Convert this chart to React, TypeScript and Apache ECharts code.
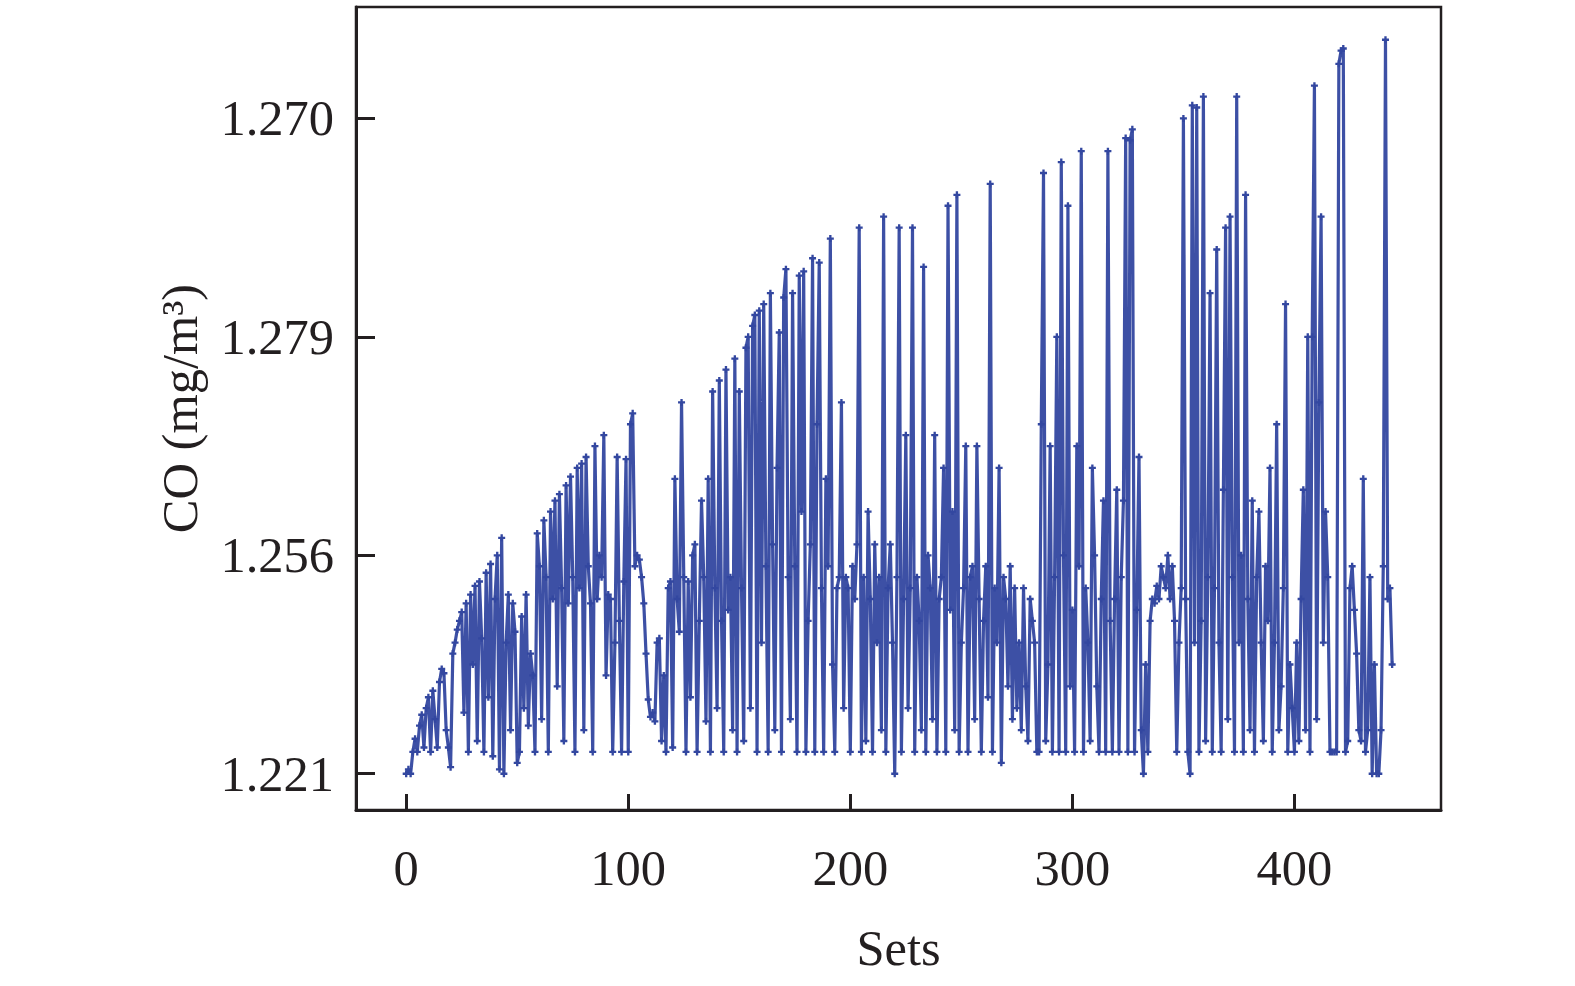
import React, { useEffect, useRef } from "react";
import * as echarts from "echarts";

// Y tick labels as printed in the figure (bottom to top), placed at positions 0..3
const yTickLabels = ["1.221", "1.256", "1.279", "1.270"];
const yTickPositions = [0, 1, 2, 3];
const xTickValues = [0, 100, 200, 300, 400];

// CO values, expressed in tick-position units (0 = "1.221", 1 = "1.256", 2 = "1.279", 3 = "1.270")
const coA = [
  0.00, 0.02, 0.00, 0.10, 0.16, 0.10, 0.22, 0.27, 0.12, 0.30,
  0.35, 0.10, 0.38, 0.25, 0.12, 0.42, 0.48, 0.46, 0.20, 0.12,
  0.03, 0.55, 0.60, 0.66, 0.70, 0.74, 0.28, 0.78, 0.10, 0.82,
  0.50, 0.86, 0.15, 0.88, 0.62, 0.10, 0.92, 0.35, 0.96, 0.08,
  0.80, 1.00, 0.02, 1.08, 0.00, 0.60, 0.82, 0.20, 0.78, 0.65,
  0.05, 0.10, 0.72, 0.30, 0.82, 0.22, 0.55, 0.45, 0.10, 1.10,
  0.95, 0.25, 1.16, 0.90, 0.10, 1.20, 0.80, 1.25, 0.40, 1.28,
  0.85, 0.15, 1.32, 0.78, 1.36, 0.90, 0.10, 1.40, 0.85, 1.42,
  0.20, 1.45, 0.95, 0.78, 0.10, 1.50, 0.80, 1.00, 0.90, 1.55,
  0.45, 0.82, 0.80, 0.10, 0.60, 1.45, 0.70, 0.10, 0.88, 1.44,
];
const coB = [
  0.10, 1.60, 1.65, 0.95, 1.00, 0.98, 0.90, 0.78, 0.55, 0.34,
  0.26, 0.28, 0.24, 0.60, 0.62, 0.15, 0.45, 0.10, 0.85, 0.88,
  0.12, 1.35, 0.80, 0.65, 1.70, 0.90, 0.10, 0.88, 0.35, 1.00,
  1.05, 0.10, 0.70, 1.25, 0.90, 0.24, 1.35, 0.10, 1.75, 0.85,
  0.30, 1.80, 0.70, 0.10, 1.85, 0.75, 0.90, 0.20, 1.90, 0.10,
  1.75, 0.85, 0.15, 1.95, 2.00, 0.30, 2.05, 2.10, 0.10, 2.12,
  0.60, 2.15, 0.95, 0.10, 2.20, 1.05, 0.20, 1.40, 2.02, 0.10,
  2.18, 2.31, 0.90, 0.25, 2.20, 0.95, 0.10, 2.28, 1.20, 2.30,
  0.10, 0.70, 1.05, 2.36, 0.10, 1.60, 2.34, 0.85, 0.10, 1.35,
  0.95, 2.45, 0.50, 0.10, 0.85, 0.90, 1.70, 0.30, 0.90, 0.85,
];
const coC = [
  0.10, 0.95, 0.80, 1.05, 2.50, 0.10, 0.90, 0.15, 1.20, 0.80,
  0.10, 1.05, 0.60, 0.90, 0.20, 2.55, 0.10, 0.85, 1.05, 0.60,
  0.00, 0.90, 2.50, 0.10, 0.80, 1.55, 0.30, 0.85, 2.50, 0.10,
  0.90, 0.70, 0.20, 2.32, 0.10, 1.00, 0.85, 0.25, 1.55, 0.10,
  0.80, 0.90, 1.40, 0.10, 2.60, 0.75, 1.20, 0.20, 2.65, 0.10,
  0.60, 0.85, 1.50, 0.10, 0.90, 0.95, 0.25, 1.50, 0.80, 0.10,
  0.70, 0.95, 0.35, 2.70, 0.10, 0.85, 0.60, 1.40, 0.05, 0.90,
  0.80, 0.40, 0.95, 0.25, 0.85, 0.30, 0.60, 0.20, 0.85, 0.40,
  0.15, 0.80, 0.70, 0.60, 0.10, 0.10, 1.60, 2.75, 0.15, 0.50,
  1.50, 0.10, 0.90, 2.00, 0.10, 2.80, 1.00, 0.10, 2.60, 0.40,
];
const coD = [
  0.75, 0.10, 1.50, 0.95, 2.85, 0.10, 0.85, 0.60, 0.15, 1.40,
  1.00, 0.40, 0.10, 0.80, 1.25, 0.10, 2.85, 0.70, 0.10, 0.80,
  1.30, 0.10, 0.90, 1.25, 2.91, 0.10, 2.90, 2.95, 0.10, 0.75,
  1.45, 0.20, 0.00, 0.50, 0.10, 0.70, 0.80, 0.78, 0.86, 0.80,
  0.95, 0.90, 0.85, 1.00, 0.80, 0.95, 0.70, 0.10, 0.60, 0.85,
  3.00, 0.80, 0.10, 0.00, 3.06, 0.60, 3.05, 0.10, 0.70, 3.10,
  0.15, 0.90, 2.20, 0.10, 0.85, 2.40, 0.60, 0.10, 1.30, 2.50,
  0.25, 2.55, 0.90, 0.10, 3.10, 0.60, 1.00, 0.10, 2.65, 0.80,
  0.20, 1.25, 0.10, 0.90, 1.20, 0.60, 0.15, 0.95, 0.70, 1.40,
  0.10, 0.60, 1.60, 0.20, 0.40, 0.85, 2.15, 0.10, 0.50, 0.30,
];
const coE = [
  0.10, 0.60, 0.15, 0.80, 1.30, 0.20, 2.00, 0.10, 2.00, 3.15,
  0.25, 1.70, 2.55, 0.60, 1.20, 0.90, 0.10, 0.10, 0.10, 0.10,
  3.25, 3.31, 3.32, 0.10, 0.15, 0.85, 0.95, 0.75, 0.55, 0.20,
  0.15, 1.35, 0.10, 0.20, 0.90, 0.00, 0.50, 0.00, 0.00, 0.20,
  0.95, 3.36, 0.80, 0.85, 0.50,
];

const coValues = [...coA, ...coB, ...coC, ...coD, ...coE];

const FONT = '"Liberation Serif", "Times New Roman", serif';
const AXIS = "#231f20";
const LINE = "#3347a0";

export default function App() {
  const ref = useRef<HTMLDivElement>(null);

  useEffect(() => {
    if (!ref.current) return;
    const chart = echarts.init(ref.current, undefined, { renderer: "svg" });
    const data = coValues.map((v, i) => [i, v]);
    chart.setOption({
      animation: false,
      backgroundColor: "#ffffff",
      grid: {
        left: 356,
        right: 134,
        top: 7,
        bottom: 176,
        show: true,
        borderColor: AXIS,
        borderWidth: 2.5,
        backgroundColor: "transparent",
      },
      xAxis: {
        type: "value",
        min: -22.6,
        max: 466,
        name: "Sets",
        nameLocation: "middle",
        nameGap: 112,
        nameTextStyle: { fontFamily: FONT, fontSize: 50.5, color: AXIS },
        splitLine: { show: false },
        axisLine: { show: true, onZero: false, lineStyle: { color: AXIS, width: 3 } },
        axisTick: {
          show: true,
          inside: true,
          length: 16,
          customValues: xTickValues,
          lineStyle: { color: AXIS, width: 3 },
        },
        axisLabel: {
          customValues: xTickValues,
          fontFamily: FONT,
          fontSize: 50.5,
          color: AXIS,
          margin: 32,
        },
      },
      yAxis: {
        type: "value",
        min: -0.166,
        max: 3.51,
        name: "CO (mg/m³)",
        nameLocation: "middle",
        nameGap: 151,
        nameRotate: 90,
        nameTextStyle: { fontFamily: FONT, fontSize: 50.5, color: AXIS },
        splitLine: { show: false },
        axisLine: { show: true, onZero: false, lineStyle: { color: AXIS, width: 3 } },
        axisTick: {
          show: true,
          inside: true,
          length: 19,
          customValues: yTickPositions,
          lineStyle: { color: AXIS, width: 3 },
        },
        axisLabel: {
          customValues: yTickPositions,
          formatter: (v: number) => yTickLabels[Math.round(v)] ?? "",
          fontFamily: FONT,
          fontSize: 50.5,
          color: AXIS,
          margin: 22,
        },
      },
      series: [
        {
          type: "line",
          data,
          symbol: "path://M2,0H4V2H6V4H4V6H2V4H0V2H2Z",
          symbolSize: 7,
          showSymbol: true,
          itemStyle: { color: LINE },
          lineStyle: { color: LINE, width: 3.2, opacity: 0.95 },
        },
      ],
    });
    return () => chart.dispose();
  }, []);

  return (
    <div
      ref={ref}
      style={{ position: "fixed", left: 0, top: 0, width: 1575, height: 986, background: "#fff" }}
    />
  );
}
